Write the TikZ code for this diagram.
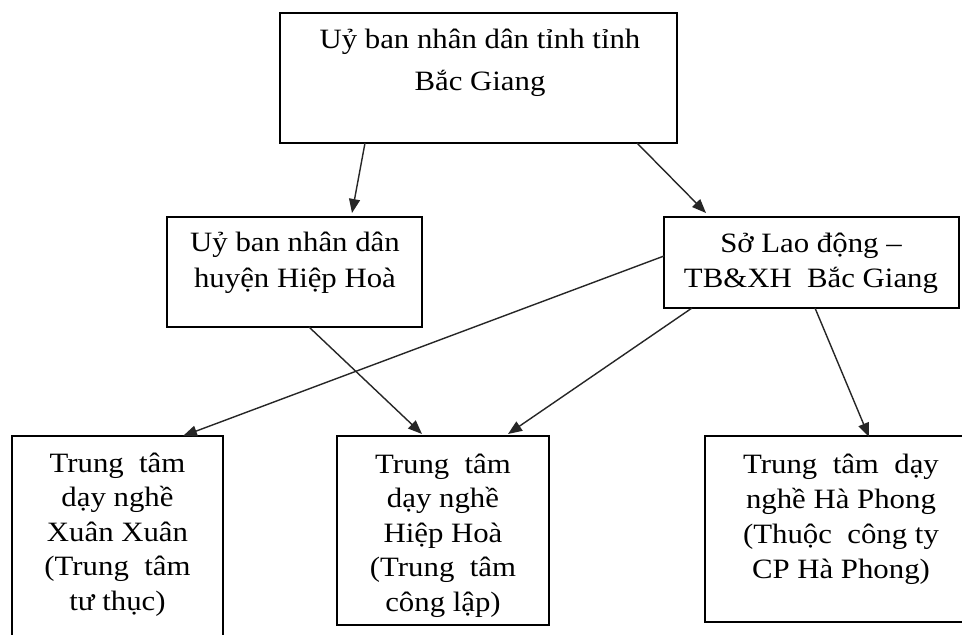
\documentclass[tikz,border=0pt]{standalone}
\usepackage{fontspec}
\setmainfont{Liberation Serif}[FakeStretch=1.1]
\usetikzlibrary{arrows.meta,calc}
\tikzset{
  box/.style={draw=black, line width=1.5pt, inner sep=0pt, outer sep=0pt, anchor=north west},
  txt/.style={align=center, inner sep=0pt, anchor=north, text=black},
  conn/.style={-{Triangle[length=14pt,width=11pt]}, line width=1.4pt, draw=black!85},
}
\newcommand{\topstrut}{\rule{0pt}{28pt}}
\begin{document}
\begin{tikzpicture}[x=1pt,y=-1pt]
\useasboundingbox (0,0) rectangle (962,635);
\clip (0,0) rectangle (962,635);
\fill[white] (0,0) rectangle (962,635);
% boxes
\node[box, minimum width=397pt, minimum height=130pt] (top) at (280,13) {};
\node[box, minimum width=255pt, minimum height=110pt] (um) at (167,217) {};
\node[box, minimum width=295pt, minimum height=91pt] (so) at (664,217) {};
\node[box, minimum width=211pt, minimum height=220pt] (b1) at (12,436) {};
\node[box, minimum width=212pt, minimum height=189pt] (b2) at (337,436) {};
\node[box, minimum width=272pt, minimum height=186pt] (b3) at (705,436) {};
% texts
\node[txt, font=\fontsize{28}{42}\selectfont] (topT) at (480,20) {\topstrut Uỷ ban nhân dân tỉnh tỉnh\\Bắc Giang};
\node[txt, font=\fontsize{28}{36}\selectfont] (umT) at (295,223) {\topstrut Uỷ ban nhân dân\\huyện Hiệp Hoà};
\node[txt, font=\fontsize{28}{35}\selectfont] (soT) at (811,224) {\topstrut Sở Lao động –\\TB\&XH\ \ Bắc Giang};
\node[txt, font=\fontsize{28}{34.5}\selectfont] (b1T) at (117.5,444) {\topstrut Trung\ \ tâm\\dạy nghề\\Xuân Xuân\\(Trung\ \ tâm\\tư thục)};
\node[txt, font=\fontsize{28}{34.5}\selectfont] (b2T) at (443,445) {\topstrut Trung\ \ tâm\\dạy nghề\\Hiệp Hoà\\(Trung\ \ tâm\\công lập)};
\node[txt, font=\fontsize{28}{35}\selectfont] (b3T) at (841,445) {\topstrut Trung\ \ tâm\ \ dạy\\nghề Hà Phong\\(Thuộc\ \ công ty\\CP Hà Phong)};
% connectors
\draw[conn] ($(top.south west)+(85,0)$) -- ($(um.north west)+(185,-4)$);
\draw[conn] ($(top.south west)+(357,0)$) -- ($(so.north west)+(42,-4)$);
\draw[conn] ($(um.south west)+(142,0)$) -- ($(b2.north west)+(85,-2)$);
\draw[conn] ($(so.north west)+(0,39)$) -- ($(b1.north west)+(171,0)$);
\draw[conn] ($(so.south west)+(28,0)$) -- ($(b2.north west)+(171,-2)$);
\draw[conn] ($(so.south west)+(151,0)$) -- ($(b3.north west)+(164,1)$);
\end{tikzpicture}
\end{document}
